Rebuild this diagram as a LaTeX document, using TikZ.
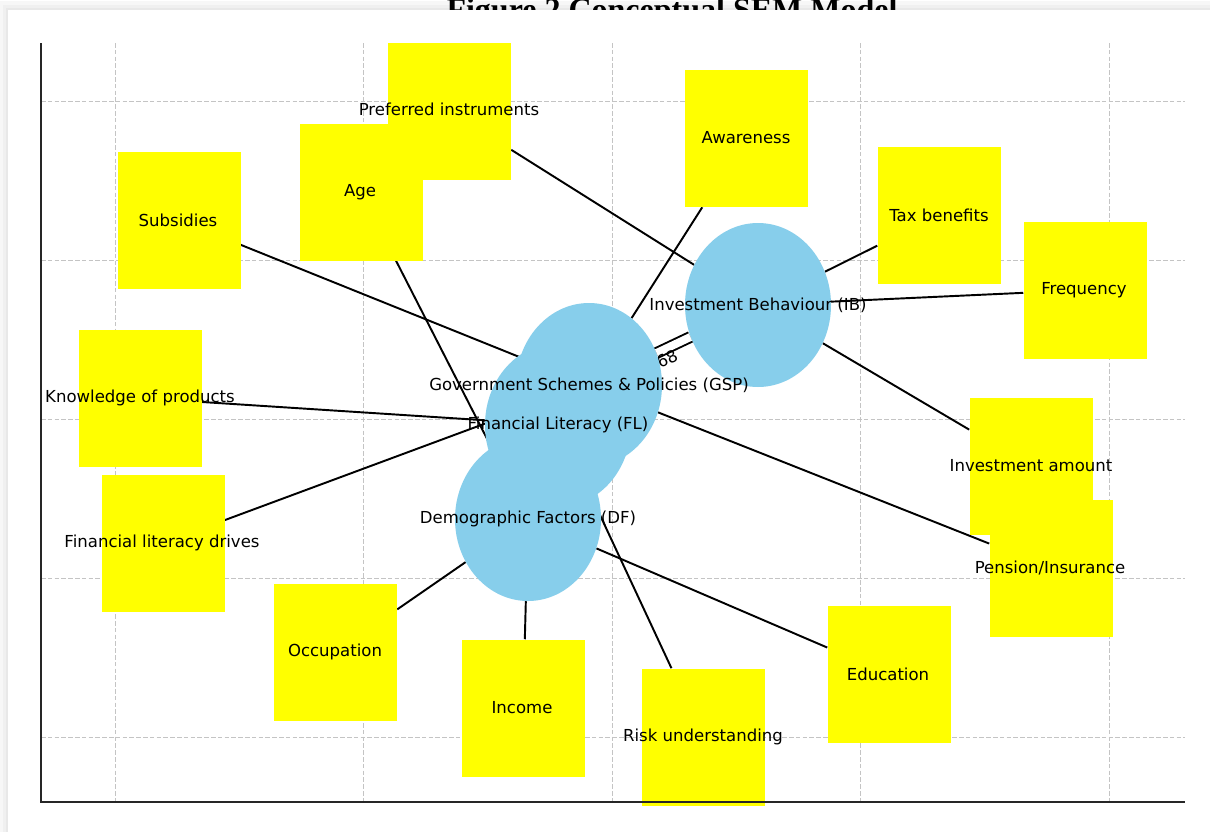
\documentclass[tikz,border=0pt]{standalone}
\usepackage{xcolor}
\usepackage{fontspec}
\setmainfont{DejaVu Sans}
\newfontfamily\titlefont{Liberation Serif}
\usepackage{tikz}
\usetikzlibrary{arrows, positioning, calc, shapes.geometric}
\definecolor{skyblue}{HTML}{87CEEB}
\definecolor{boxyellow}{HTML}{FFFF00}
\definecolor{gridgray}{HTML}{C4C4C4}
\definecolor{spinegray}{HTML}{262626}
\pgfdeclarelayer{background}
\pgfsetlayers{background,main}

\begin{document}
\begin{tikzpicture}[x=0.75pt,y=-0.75pt,font=\fontsize{12.4}{14}\selectfont,
	latent node/.style={ellipse,fill=skyblue,minimum width=109.5pt,minimum height=123pt,inner sep=0pt},
	item node/.style={rectangle,fill=boxyellow,minimum width=92.25pt,minimum height=102.75pt,inner sep=0pt},
	path line/.style={line width=1.45pt,black},
	grid line/.style={gridgray,line width=0.65pt,dash pattern=on 3.5pt off 1.6pt}]

	\useasboundingbox (0,0) rectangle (1210,832);

	% latent variables
	\node[latent node] (IB) at (758,305) {};
	\node[latent node] (GSP) at (589,385) {};
	\node[latent node] (FL) at (558,425) {};
	\node[latent node] (DF) at (528,519) {};
	\node (IB-text) at (IB) {Investment Behaviour (IB)};
	\node (GSP-text) at (GSP) {Government Schemes \& Policies (GSP)};
	\node (FL-text) at (FL) {Financial Literacy (FL)};
	\node (DF-text) at (DF) {Demographic Factors (DF)};

	% observed items
	\node[item node] (PI) at (449.5,111) {};
	\node[item node] (AW) at (746,138.5) {};
	\node[item node] (AGE) at (361,192) {};
	\node[item node] (SUB) at (179,220) {};
	\node[item node] (TAX) at (939,215) {};
	\node[item node] (FREQ) at (1085,290) {};
	\node[item node] (KP) at (140,398) {};
	\node[item node] (IA) at (1031,466) {};
	\node[item node] (FLD) at (163,543) {};
	\node[item node] (PEN) at (1051,568) {};
	\node[item node] (OCC) at (335.5,652) {};
	\node[item node] (INC) at (523,708) {};
	\node[item node] (RISK) at (703.5,737) {};
	\node[item node] (EDU) at (889,674) {};
	\node (PI-text) at (449,109) {Preferred instruments};
	\node (AW-text) at (746,138) {Awareness};
	\node (AGE-text) at (360,192) {Age};
	\node (SUB-text) at (178,220) {Subsidies};
	\node (TAX-text) at (939,215) {Tax benefits};
	\node (FREQ-text) at (1084,290) {Frequency};
	\node (KP-text) at (140,398) {Knowledge of products};
	\node (IA-text) at (1031,466) {Investment amount};
	\node (FLD-text) at (162,543) {Financial literacy drives};
	\node (PEN-text) at (1050,568) {Pension/Insurance};
	\node (OCC-text) at (335,652) {Occupation};
	\node (INC-text) at (522,708) {Income};
	\node (RISK-text) at (703,737) {Risk understanding};
	\node (EDU-text) at (888,674) {Education};

	\begin{pgfonlayer}{background}
		% card
		\fill[white] (0,0) rectangle (1210,832);
		\fill[black!3] (0,1) rectangle (1210,832);
		\fill[black!6] (3,5) rectangle (1210,832);
		\fill[black!9] (6,8) rectangle (1210,832);
		\node[font=\titlefont\bfseries\fontsize{24}{28}\selectfont,anchor=base] (title) at (672,20) {Figure 2 Conceptual SEM Model};
		\fill[white] (8,10) rectangle (1210,832);
		% grid
		\foreach \gx in {115,363.5,612,860.5,1109}
			\draw[grid line] (\gx,43) -- (\gx,802);
		\foreach \gy in {101,260,419,578,737}
			\draw[grid line] (41,\gy) -- (1185,\gy);
		% paths
		\draw[path line] (PI) -- (IB);
		\draw[path line] (TAX) -- (IB);
		\draw[path line] (FREQ) -- (IB);
		\draw[path line] (IA) -- (IB);
		\draw[path line] (AW) -- (GSP);
		\draw[path line] (SUB) -- (GSP);
		\draw[path line] (PEN) -- (GSP);
		\draw[path line] (FLD) -- (GSP);
		\draw[path line] (KP) -- (FL);
		\draw[path line] (RISK) -- (FL);
		\draw[path line] (AGE) -- (DF);
		\draw[path line] (OCC) -- (DF);
		\draw[path line] (INC) -- (DF);
		\draw[path line] (EDU) -- (DF);
		\draw[path line,double distance=6pt] (GSP) -- (IB);
		\node[rotate=25] (coef) at (660,362) {0.68};
	\end{pgfonlayer}

	% axes
	\draw[spinegray,line width=1.8pt] (41,43) -- (41,802) -- (1185,802);

\end{tikzpicture}
\end{document}
